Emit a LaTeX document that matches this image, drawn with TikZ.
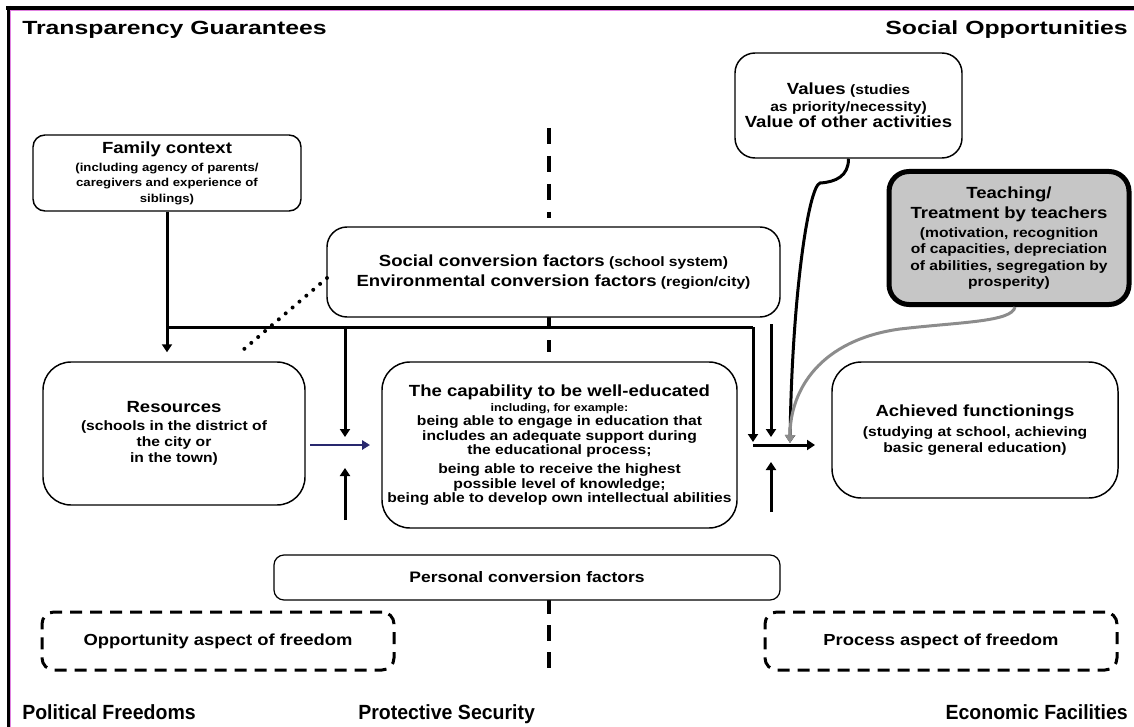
\documentclass[tikz,border=0pt]{standalone}
\usepackage{fontspec}
\setmainfont{Liberation Sans}
\newfontfamily\famTop{Liberation Sans}[FakeStretch=1.3]
\newfontfamily\famBox{Liberation Sans}[FakeStretch=1.15]
\newfontfamily\famBot{Liberation Sans}[FakeStretch=0.95]
\usetikzlibrary{arrows.meta}
\newcommand\txTop{\famTop\bfseries\fontsize{14.3}{17}\selectfont}
\newcommand\txL{\famBox\bfseries\fontsize{12.1}{14.5}\selectfont}
\newcommand\txS{\famBox\bfseries\fontsize{10.2}{12}\selectfont}
\newcommand\txSt{\famBox\bfseries\fontsize{10.2}{10.8}\selectfont}
\newcommand\txSw{\famBox\bfseries\fontsize{10.2}{12.3}\selectfont}
\newcommand\txF{\famBox\bfseries\fontsize{8.6}{11.6}\selectfont}
\newcommand\txXS{\famBox\bfseries\fontsize{8.2}{10}\selectfont}
\newcommand\txBot{\famBot\bfseries\fontsize{15.4}{18}\selectfont}
\newcommand\txD{\famBox\bfseries\fontsize{12}{14}\selectfont}
\newcommand\txP{\famBox\bfseries\fontsize{11.4}{14}\selectfont}
\definecolor{navy}{RGB}{40,40,110}
\definecolor{pinkline}{RGB}{225,130,225}
\definecolor{greyline}{RGB}{140,140,140}
\definecolor{greyfill}{RGB}{198,198,198}
\tikzset{
  rbox/.style={draw, line width=1.1pt, fill=white, align=center, inner sep=0pt},
  dbox/.style={draw, line width=2.25pt, dash pattern=on 9pt off 6pt, rounded corners=9pt, align=center, inner sep=0pt},
  arr/.style={line width=2.25pt, -{Triangle[length=6pt,width=7.5pt]}},
  plain/.style={line width=2.25pt},
  cdash/.style={line width=3pt},
  lbl/.style={inner sep=0pt, font=\txTop},
  blbl/.style={inner sep=0pt, font=\txBot}
}
\begin{document}
\begin{tikzpicture}[x=0.75pt,y=-0.75pt]
\useasboundingbox (0,0) rectangle (1134,727);
% frame
\draw[line width=3pt] (6,8) -- (1134,8);
\draw[line width=3pt] (8.5,6) -- (8.5,727);
\draw[pinkline, line width=0.7pt] (10.5,10.8) -- (1134,10.8);
\draw[pinkline, line width=0.7pt] (10.9,10.5) -- (10.9,727);
% centre dashed line
\draw[cdash, dash pattern=on 12pt off 9pt] (549,128) -- (549,218);
\draw[cdash, dash pattern=on 9pt off 10.5pt] (549,314) -- (549,352);
\draw[cdash, dash pattern=on 12pt off 8.25pt] (549,598) -- (549,668);
% corner labels
\node[lbl, anchor=base west] (tg) at (22,35) {Transparency Guarantees};
\node[lbl, anchor=base east] (so) at (1128,35) {Social Opportunities};
\node[blbl, anchor=base west] (pf) at (22,719) {Political Freedoms};
\node[blbl, anchor=base west] (ps) at (358,719) {Protective Security};
\node[blbl, anchor=base east] (ef) at (1128,719) {Economic Facilities};
% boxes
\node[rbox, rounded corners=9pt, minimum width=201pt, minimum height=57pt, font=\txF] (fam) at (167,173)
 {{\txL Family context}\\[2pt](including agency of parents/\\caregivers and experience of\\siblings)};
\node[rbox, rounded corners=15pt, minimum width=170.25pt, minimum height=78.75pt, font=\txSw] (val) at (848.5,105.5)
 {{\txL Values} (studies\\as priority/necessity)\\{\txL Value of other activities}};
\node[rbox, draw=black, line width=3.75pt, fill=greyfill, rounded corners=15pt, minimum width=180pt, minimum height=99.75pt, font=\txSw] (teach) at (1009,238)
 {{\txL Teaching/}\\[3pt]{\txL Treatment by teachers}\\[1.5pt](motivation, recognition\\of capacities, depreciation\\of abilities, segregation by\\prosperity)};
\node[rbox, rounded corners=15pt, minimum width=339.75pt, minimum height=67.5pt, font=\txS] (soc) at (553.5,272)
 {{\txL Social conversion factors} (school system)\\[3pt]{\txL Environmental conversion factors} (region/city)};
\node[rbox, rounded corners=21pt, minimum width=196.5pt, minimum height=107.25pt, font=\txS] (res) at (174,433.5)
 {{\txL Resources}\\[1.5pt](schools in the district of\\the city or\\in the town)};
\node[rbox, rounded corners=21pt, minimum width=266.25pt, minimum height=124.5pt, font=\txSt] (cap) at (559.5,445)
 {{\txL The capability to be well-educated}\\[0.5pt]{\txXS including, for example:}\\being able to engage in education that\\includes an adequate support during\\the educational process;\\[3.5pt]being able to receive the highest\\possible level of knowledge;\\being able to develop own intellectual abilities};
\node[rbox, rounded corners=22pt, minimum width=214.5pt, minimum height=102pt, font=\txS] (ach) at (975,430)
 {{\txL Achieved functionings}\\[2.5pt](studying at school, achieving\\basic general education)};
\node[rbox, line width=0.9pt, rounded corners=7.5pt, minimum width=379.5pt, minimum height=33.75pt, font=\txP] (pers) at (527,577.5)
 {Personal conversion factors};
\node[dbox, minimum width=264pt, minimum height=43.5pt, font=\txD] (opp) at (218,641) {Opportunity aspect of freedom};
\node[dbox, minimum width=264pt, minimum height=43.5pt, font=\txD] (proc) at (941,641) {Process aspect of freedom};
% connector coordinates
\coordinate (j1) at (167,327);
\coordinate (j2) at (753,327);
\coordinate (j2e) at (753,442);
\coordinate (k1) at (345,327);
\coordinate (k1e) at (345,437);
\coordinate (k2s) at (345,520);
\coordinate (k2e) at (345,468);
\coordinate (b1) at (310,445);
\coordinate (b2) at (370,445);
\coordinate (h1) at (753,445);
\coordinate (h2) at (815,445);
\coordinate (m1) at (771,324);
\coordinate (m1e) at (771,437);
\coordinate (m2s) at (771,512);
\coordinate (m2e) at (771,462);
\coordinate (tip) at (790,443);
\coordinate (d1) at (327,278);
\coordinate (d2) at (243,350);
% connectors
\draw[plain] (fam.south) -- (j1) -- (j2);
\draw[arr] (j2) -- (j2e);
\draw[arr, shorten >=6.75pt] (j1) -- (j1 |- res.north);
\draw[arr] (k1) -- (k1e);
\draw[arr] (k2s) -- (k2e);
\draw[line width=2pt, navy, -{Triangle[length=6pt,width=7pt]}] (b1) -- (b2);
\draw[arr] (h1) -- (h2);
\draw[arr] (m1) -- (m1e);
\draw[arr] (m2s) -- (m2e);
\draw[line width=2.25pt, -{Triangle[length=6pt,width=7.5pt]}] (val.south) .. controls (848.5,176) and (836,182) .. (820,183) .. controls (808,187) and (792,300) .. (tip);
\draw[line width=2.25pt, greyline, -{Triangle[length=6pt,width=7.5pt]}] ([xshift=4.5pt]teach.south) .. controls (1012,322) and (960,322) .. (900,329) .. controls (820,340) and (790,390) .. (tip);
\draw[line width=3pt, line cap=round, dash pattern=on 0pt off 6.8pt] (d1) -- (d2);
\end{tikzpicture}
\end{document}
